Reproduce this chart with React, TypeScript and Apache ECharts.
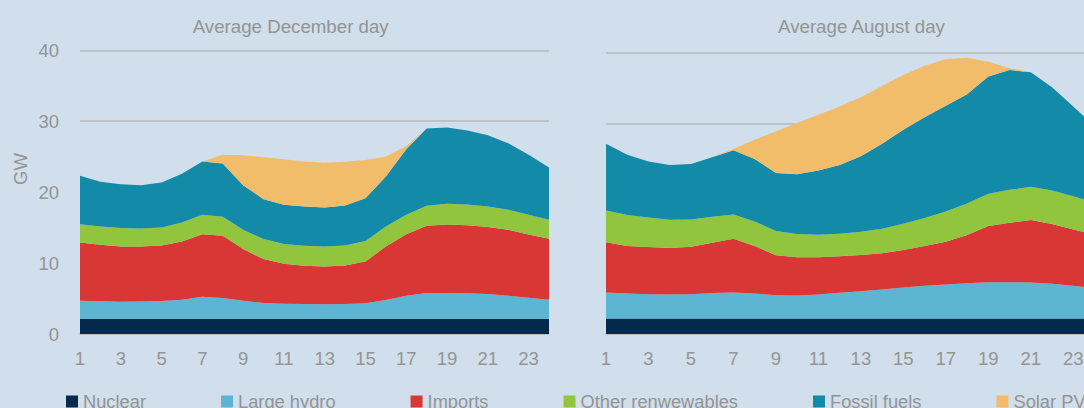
import React, { useEffect, useRef } from "react";
import * as echarts from "echarts";

const hours = ["1","2","3","4","5","6","7","8","9","10","11","12","13","14","15","16","17","18","19","20","21","22","23","24"];
const seriesNames = ["Nuclear", "Large hydro", "Imports", "Other renwewables", "Fossil fuels", "Solar PV"];
const colors = ["#04294b", "#5cb6d3", "#d93636", "#92c53e", "#138ba8", "#f2bd6b"];
const yTicks = [0, 10, 20, 30, 40];

// Average December day (GW)
const decNuclear = [2.15,2.15,2.15,2.15,2.15,2.15,2.15,2.15,2.15,2.15,2.15,2.15,2.15,2.15,2.15,2.15,2.15,2.15,2.15,2.15,2.15,2.15,2.15,2.15];
const decHydro = [2.54,2.47,2.40,2.43,2.50,2.69,3.11,2.92,2.54,2.22,2.12,2.07,2.03,2.07,2.17,2.64,3.25,3.62,3.62,3.59,3.48,3.25,2.97,2.69];
const decImports = [8.22,7.96,7.80,7.77,7.84,8.21,8.82,8.78,7.28,6.19,5.64,5.40,5.35,5.45,5.91,7.56,8.68,9.49,9.68,9.61,9.44,9.29,8.92,8.59];
const decOther = [2.58,2.58,2.58,2.53,2.53,2.68,2.73,2.68,2.72,2.82,2.77,2.82,2.82,2.82,2.87,2.81,2.73,2.82,2.91,2.91,2.91,2.82,2.77,2.67];
const decFossil = [6.81,6.30,6.20,6.11,6.34,6.85,7.51,7.51,6.30,5.63,5.54,5.54,5.49,5.63,6.05,7.05,9.25,10.89,10.75,10.43,10.05,9.39,8.45,7.37];
const decSolar = [0,0,0,0,0,0,0,1.22,4.22,5.92,6.43,6.34,6.29,6.15,5.40,2.81,0.40,0,0,0,0,0,0,0];

// Average August day (GW)
const augNuclear = [2.2,2.2,2.2,2.2,2.2,2.2,2.2,2.2,2.2,2.2,2.2,2.2,2.2,2.2,2.2,2.2,2.2,2.2,2.2,2.2,2.2,2.2,2.2,2.2];
const augHydro = [3.71,3.57,3.47,3.43,3.47,3.62,3.71,3.57,3.33,3.28,3.43,3.66,3.90,4.14,4.42,4.66,4.84,5.03,5.18,5.18,5.13,4.94,4.66,4.30];
const augImports = [7.14,6.76,6.72,6.62,6.76,7.18,7.66,6.76,5.68,5.44,5.29,5.20,5.15,5.15,5.34,5.67,6.10,6.86,7.99,8.46,8.89,8.51,8.03,7.68];
const augOther = [4.54,4.40,4.21,4.01,3.88,3.69,3.45,3.50,3.45,3.31,3.22,3.22,3.31,3.50,3.74,3.97,4.31,4.49,4.58,4.68,4.73,4.78,4.73,4.50];
const augFossil = [9.50,8.60,7.94,7.81,7.90,8.46,9.13,8.89,8.27,8.51,9.12,9.79,10.74,12.10,13.38,14.37,15.03,15.56,16.69,17.07,16.31,14.70,12.77,10.87];
const augSolar = [0,0,0,0,0,0,0.20,2.74,5.91,7.28,7.95,8.32,8.41,8.23,7.80,7.33,6.62,5.20,2.13,0.24,0,0,0,0];

const decData = [decNuclear, decHydro, decImports, decOther, decFossil, decSolar];
const augData = [augNuclear, augHydro, augImports, augOther, augFossil, augSolar];

const FONT = "'Liberation Sans', Arial, sans-serif";
const TEXT = "#949494";
const GRIDC = "#b6b8ba";

export default function App() {
  const ref = useRef<HTMLDivElement>(null);
  useEffect(() => {
    if (!ref.current) return;
    const chart = echarts.init(ref.current, undefined, { renderer: "svg" });
    const mkSeries = (data: number[][], idx: number, stack: string) =>
      data.map((vals, i) => ({
        name: seriesNames[i],
        type: "line",
        xAxisIndex: idx,
        yAxisIndex: idx,
        stack,
        data: vals,
        symbol: "none",
        showSymbol: false,
        lineStyle: { width: 0 },
        itemStyle: { color: colors[i] },
        areaStyle: { color: colors[i], opacity: 1 },
      }));
    const xAxisBase = (i: number) => ({
      type: "category",
      gridIndex: i,
      data: hours,
      boundaryGap: false,
      axisTick: { show: false },
      axisLine: { lineStyle: { color: GRIDC, width: 1.5 } },
      axisLabel: { interval: 1, color: TEXT, fontSize: 18.5, fontFamily: FONT, margin: 15 },
      splitLine: { show: false },
    });
    const yAxisBase = (i: number, showLabels: boolean) => ({
      type: "value",
      gridIndex: i,
      min: yTicks[0],
      max: yTicks[yTicks.length - 1],
      interval: 10,
      axisLine: { show: false },
      axisTick: { show: false },
      axisLabel: { show: showLabels, color: TEXT, fontSize: 18.5, fontFamily: FONT, margin: 21 },
      splitLine: { lineStyle: { color: GRIDC, width: 1.5 } },
    });
    chart.setOption({
      animation: false,
      backgroundColor: "#d0dfeb",
      textStyle: { fontFamily: FONT },
      grid: [
        { left: 80, top: 50.3, width: 469, height: 283.7 },
        { left: 606, top: 53, width: 488.5, height: 281 },
      ],
      xAxis: [xAxisBase(0), xAxisBase(1)],
      yAxis: [yAxisBase(0, true), yAxisBase(1, false)],
      legend: {
        data: seriesNames,
        left: 66,
        top: 392.5,
        padding: 0,
        itemGap: 75,
        itemWidth: 12,
        itemHeight: 12,
        icon: "rect",
        selectedMode: false,
        textStyle: { color: TEXT, fontSize: 18.3, fontFamily: FONT, lineHeight: 18 },
      },
      graphic: [
        { type: "text", x: 290.7, y: 26, style: { text: "Average December day", fill: TEXT, font: `18.7px ${FONT}`, textAlign: "center", textVerticalAlign: "middle" } },
        { type: "text", x: 861.5, y: 26, style: { text: "Average August day", fill: TEXT, font: `18.7px ${FONT}`, textAlign: "center", textVerticalAlign: "middle" } },
        { type: "text", x: 20.5, y: 169, rotation: Math.PI / 2, style: { text: "GW", fill: TEXT, font: `18.5px ${FONT}`, textAlign: "center", textVerticalAlign: "middle" } },
      ],
      series: [...mkSeries(decData, 0, "dec"), ...mkSeries(augData, 1, "aug")],
    });
    return () => chart.dispose();
  }, []);
  return (
    <div style={{ position: "fixed", left: 0, top: 0, width: 1084, height: 408, overflow: "hidden" }}>
      <div ref={ref} style={{ width: 1100, height: 408 }} />
    </div>
  );
}
